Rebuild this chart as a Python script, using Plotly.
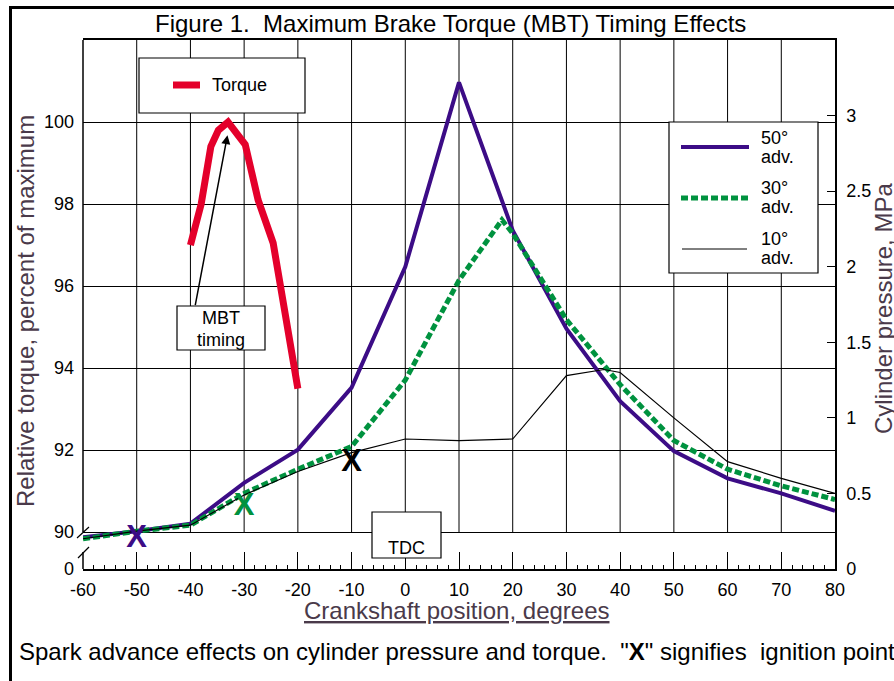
import plotly.graph_objects as go

# ---------------- data ----------------
x_ticks = [-60, -50, -40, -30, -20, -10, 0, 10, 20, 30, 40, 50, 60, 70, 80]
x_ticktext = ["-60", "-50", "-40", "-30", "-20", "-10", "0", "10", "20", "30", "40", "50", "60", "70", "80"]

torque_ticks = [90, 92, 94, 96, 98, 100]
pressure_ticks = [0, 0.5, 1, 1.5, 2, 2.5, 3]
pressure_ticktext = ["0", "0.5", "1", "1.5", "2", "2.5", "3"]

# Cylinder pressure, MPa
adv50_x = [-60, -50, -40, -30, -20, -10, 0, 10, 20, 30, 40, 50, 60, 70, 80]
adv50_p = [0.21, 0.25, 0.30, 0.57, 0.79, 1.20, 2.00, 3.22, 2.24, 1.59, 1.11, 0.78, 0.60, 0.50, 0.385]

adv30_x = [-60, -50, -40, -30, -20, -10, 0, 10, 18, 20, 30, 40, 50, 60, 70, 80]
adv30_p = [0.20, 0.25, 0.29, 0.50, 0.66, 0.81, 1.25, 1.91, 2.31, 2.22, 1.65, 1.22, 0.85, 0.66, 0.55, 0.46]

adv10_x = [-60, -50, -40, -30, -20, -10, 0, 10, 20, 30, 37, 40, 50, 60, 70, 80]
adv10_p = [0.20, 0.25, 0.29, 0.49, 0.645, 0.77, 0.86, 0.85, 0.86, 1.28, 1.32, 1.30, 1.00, 0.71, 0.60, 0.50]

# Relative torque, percent of maximum
torque_x = [-40, -38, -36.2, -34.8, -33, -29.8, -27.4, -24.6, -23.3, -20]
torque_v = [97.0, 98.0, 99.4, 99.8, 100.0, 99.45, 98.1, 97.05, 96.05, 93.5]

# ignition points ("X")
ign_x = [-50, -30, -10]
ign_p = [0.20, 0.41, 0.70]

# MBT arrow (tail -> head), torque axis
mbt_tail = (-39.15, 95.5)
mbt_head = (-33.1, 99.68)

# ---------------- styling ----------------
PURPLE = "#3c0c86"
GREEN = "#00923f"
RED = "#e4002b"
TITLE_C = "#4a3a4a"
FONT = "Liberation Sans, Arial, sans-serif"

W, H = 894, 681
PL, PR, PT, PB = 83, 835, 40, 569
Y_BOTTOM = 89.1


def px(xp):
    return (xp - PL) / (PR - PL)


def py(yp):
    return (PB - yp) / (PB - PT)


fig = go.Figure()

fig.add_trace(go.Scatter(x=adv50_x, y=adv50_p, yaxis="y2", mode="lines",
                         line=dict(color=PURPLE, width=4), showlegend=False))
fig.add_trace(go.Scatter(x=adv30_x, y=adv30_p, yaxis="y2", mode="lines",
                         line=dict(color=GREEN, width=5, dash="7px,3px"), showlegend=False))
fig.add_trace(go.Scatter(x=adv10_x, y=adv10_p, yaxis="y2", mode="lines",
                         line=dict(color="black", width=1.2), showlegend=False))
fig.add_trace(go.Scatter(x=torque_x, y=torque_v, yaxis="y", mode="lines",
                         line=dict(color=RED, width=7), showlegend=False))
fig.add_trace(go.Scatter(x=ign_x, y=ign_p, yaxis="y2", mode="text",
                         text=["<b>X</b>"] * 3, textposition="middle center",
                         textfont=dict(size=31, color=[PURPLE, GREEN, "black"], family=FONT),
                         showlegend=False))

shapes = []
# vertical grid lines (stop at the axis break, at 90)
for xv in x_ticks[1:-1]:
    shapes.append(dict(type="line", xref="x", yref="y", x0=xv, x1=xv, y0=90, y1=102,
                       line=dict(color="black", width=1), layer="below"))
# left axis line with break
shapes.append(dict(type="line", xref="paper", yref="y", x0=0, x1=0, y0=90, y1=102,
                   line=dict(color="black", width=1.5)))
shapes.append(dict(type="line", xref="paper", yref="paper", x0=0, x1=0, y0=py(569), y1=py(552),
                   line=dict(color="black", width=1.5)))
shapes.append(dict(type="line", xref="paper", yref="paper", x0=px(77), x1=px(89), y0=py(538), y1=py(527),
                   line=dict(color="black", width=1.2)))
shapes.append(dict(type="line", xref="paper", yref="paper", x0=px(78), x1=px(89), y0=py(558), y1=py(547),
                   line=dict(color="black", width=1.2)))

# white boxes
def box(x0, y0, x1, y1):
    return dict(type="rect", xref="paper", yref="paper", x0=px(x0), x1=px(x1), y0=py(y1), y1=py(y0),
                fillcolor="white", line=dict(color="black", width=1.2), layer="above")

shapes.append(box(139, 58, 305, 113))     # torque legend
shapes.append(box(669, 122, 818, 273))    # pressure legend
shapes.append(box(177, 306, 265, 350))    # MBT timing
shapes.append(box(372, 512, 441, 558))    # TDC

# legend samples
shapes.append(dict(type="line", xref="paper", yref="paper", x0=px(173), x1=px(200), y0=py(85), y1=py(85),
                   line=dict(color=RED, width=7), layer="above"))
shapes.append(dict(type="line", xref="paper", yref="paper", x0=px(681), x1=px(749), y0=py(147), y1=py(147),
                   line=dict(color=PURPLE, width=4), layer="above"))
shapes.append(dict(type="line", xref="paper", yref="paper", x0=px(681), x1=px(749), y0=py(198), y1=py(198),
                   line=dict(color=GREEN, width=5, dash="7px,3px"), layer="above"))
shapes.append(dict(type="line", xref="paper", yref="paper", x0=px(682), x1=px(747), y0=py(249), y1=py(249),
                   line=dict(color="black", width=1), layer="above"))

# outer frame
shapes.append(dict(type="rect", xref="paper", yref="paper", x0=px(10.5), x1=px(920), y0=py(700), y1=py(7.5),
                   line=dict(color="black", width=3), fillcolor="rgba(0,0,0,0)", layer="above"))

ann = []


def text(t, xp, yp, size=18, color="black", xanchor="center", angle=0):
    ann.append(dict(text=t, xref="paper", yref="paper", x=px(xp), y=py(yp), showarrow=False,
                    xanchor=xanchor, yanchor="middle", textangle=angle,
                    font=dict(size=size, color=color, family=FONT)))


text("Figure 1.\u00a0 Maximum Brake Torque (MBT) Timing Effects", 450.5, 24, size=24)
text("Torque", 210, 85, xanchor="left")
text("50°", 759, 138, xanchor="left")
text("adv.", 759, 157, xanchor="left")
text("30°", 759, 188, xanchor="left")
text("adv.", 759, 207, xanchor="left")
text("10°", 759, 239, xanchor="left")
text("adv.", 759, 258, xanchor="left")
text("MBT", 221, 318)
text("timing", 221, 340)
text("TDC", 406, 548)
text("Relative torque, percent of maximum", 25, 311, size=24, color=TITLE_C, angle=-90)
text("Cylinder pressure, MPa", 883, 309, size=24, color=TITLE_C, angle=-90)
text("<u>Crankshaft position, degrees</u>", 457, 610, size=24, color=TITLE_C)
text("Spark advance effects on cylinder pressure and torque.\u00a0 \"<b>X</b>\" signifies\u00a0 ignition point",
     17, 651, size=24, xanchor="left")

ann.append(dict(text="", xref="x", yref="y", axref="x", ayref="y",
                x=mbt_head[0], y=mbt_head[1], ax=mbt_tail[0], ay=mbt_tail[1],
                showarrow=True, arrowhead=2, arrowsize=1.2, arrowwidth=1.5, arrowcolor="black",
                standoff=0, startstandoff=0))

fig.update_layout(
    width=W, height=H,
    margin=dict(l=PL, r=W - PR, t=PT, b=H - PB, pad=0),
    paper_bgcolor="white", plot_bgcolor="white",
    font=dict(family=FONT, size=18, color="black"),
    shapes=shapes, annotations=ann, showlegend=False,
    xaxis=dict(range=[-60, 80], tickvals=x_ticks, ticktext=x_ticktext,
               showgrid=False, zeroline=False, showline=True, mirror=True,
               linecolor="black", linewidth=1.5,
               ticks="inside", ticklen=17, tickwidth=1, tickcolor="black",
               ticklabelstandoff=4,
               minor=dict(dtick=2, ticks="inside", ticklen=4, tickwidth=1, tickcolor="black", showgrid=False),
               tickfont=dict(size=18, color="black")),
    yaxis=dict(range=[Y_BOTTOM, 102], tickvals=[Y_BOTTOM] + torque_ticks,
               ticktext=["0"] + [str(v) for v in torque_ticks],
               showgrid=True, gridcolor="black", gridwidth=1, zeroline=False, showline=False,
               ticks="", ticklabelstandoff=8, tickfont=dict(size=18, color="black")),
    yaxis2=dict(range=[0, 3.5], overlaying="y", side="right", anchor="x",
                tickvals=pressure_ticks, ticktext=pressure_ticktext,
                showgrid=False, zeroline=False, showline=True, linecolor="black", linewidth=1.5,
                ticks="inside", ticklen=8, tickcolor="black", ticklabelstandoff=6,
                tickfont=dict(size=18, color="black")),
)

fig.write_html("out.html")
